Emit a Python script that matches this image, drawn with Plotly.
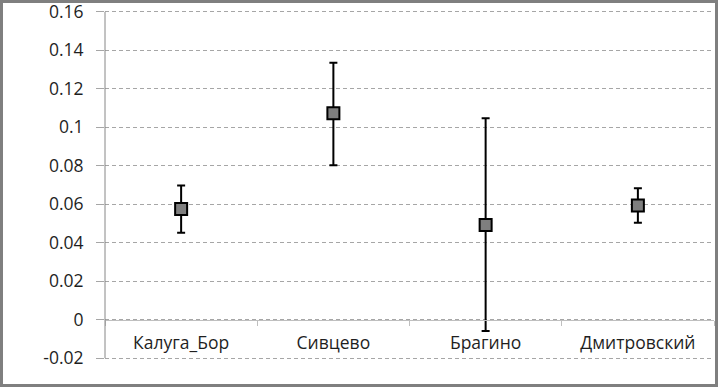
import plotly.graph_objects as go

sites = ["Калуга_Бор", "Сивцево", "Брагино", "Дмитровский"]
means = [0.0575, 0.1073, 0.0492, 0.0593]
err_plus = [0.0122, 0.0262, 0.0555, 0.0090]
err_minus = [0.0123, 0.0270, 0.0551, 0.0089]

y_ticks = [-0.02, 0, 0.02, 0.04, 0.06, 0.08, 0.1, 0.12, 0.14, 0.16]
y_tick_labels = ["-0.02", "0", "0.02", "0.04", "0.06", "0.08", "0.1", "0.12", "0.14", "0.16"]

W, H = 718, 387
L, R, T, B = 105, 4, 8, 25
pw, ph = W - L - R, H - T - B

font_family = "Open Sans, Liberation Sans, sans-serif"
text_color = "#1f1f1f"

fig = go.Figure()
fig.add_trace(go.Scatter(
    x=sites, y=means, mode="markers",
    marker=dict(symbol="square", size=12, color="#7f7f7f",
                line=dict(color="black", width=2)),
    error_y=dict(type="data", symmetric=False, array=err_plus, arrayminus=err_minus,
                 color="black", thickness=2, width=4),
    showlegend=False,
))

pad = 0.002
ymin, ymax = y_ticks[0] - pad, y_ticks[-1] + pad
fig.update_layout(
    width=W, height=H,
    margin=dict(l=L, r=R, t=T, b=B, autoexpand=False),
    paper_bgcolor="white", plot_bgcolor="white",
    font=dict(family=font_family, size=17.5, color=text_color),
    xaxis=dict(
        type="category", range=[-0.5, len(sites) - 0.5],
        anchor="free", position=(0 - ymin) / (ymax - ymin),
        automargin=False,
        showline=True, linecolor="#bfbfbf", linewidth=1,
        showgrid=False, zeroline=False,
        ticks="outside", ticklen=5, tickcolor="#bfbfbf", tickson="boundaries",
        ticklabelstandoff=7,
        tickfont=dict(size=17.5, color=text_color),
    ),
    yaxis=dict(
        range=[ymin, ymax], tickvals=y_ticks, ticktext=y_tick_labels,
        automargin=False,
        showline=False,
        showgrid=True, gridcolor="#a6a6a6", griddash="4px,3px", gridwidth=1,
        zeroline=False,
        ticks="outside", ticklen=8, tickcolor="#a6a6a6",
        ticklabelstandoff=9, ticklabeloverflow="allow",
        tickfont=dict(size=17.5, color=text_color),
    ),
    shapes=[
        dict(type="line", xref="paper", yref="y", x0=0, x1=0,
             y0=y_ticks[0], y1=y_ticks[-1], line=dict(color="#868686", width=1)),
        dict(
            type="rect", xref="paper", yref="paper",
            x0=(1.5 - L) / pw, x1=(W - 1.5 - L) / pw,
            y0=-(B - 1.5) / ph, y1=1 + (T - 1.5) / ph,
            line=dict(color="#7f7f7f", width=3), fillcolor="rgba(0,0,0,0)", layer="above",
        ),
    ],
)

fig.write_html(
    "out.html",
    config={"displayModeBar": False},
    post_script="document.body.style.margin='0';document.body.style.overflow='hidden';",
)
